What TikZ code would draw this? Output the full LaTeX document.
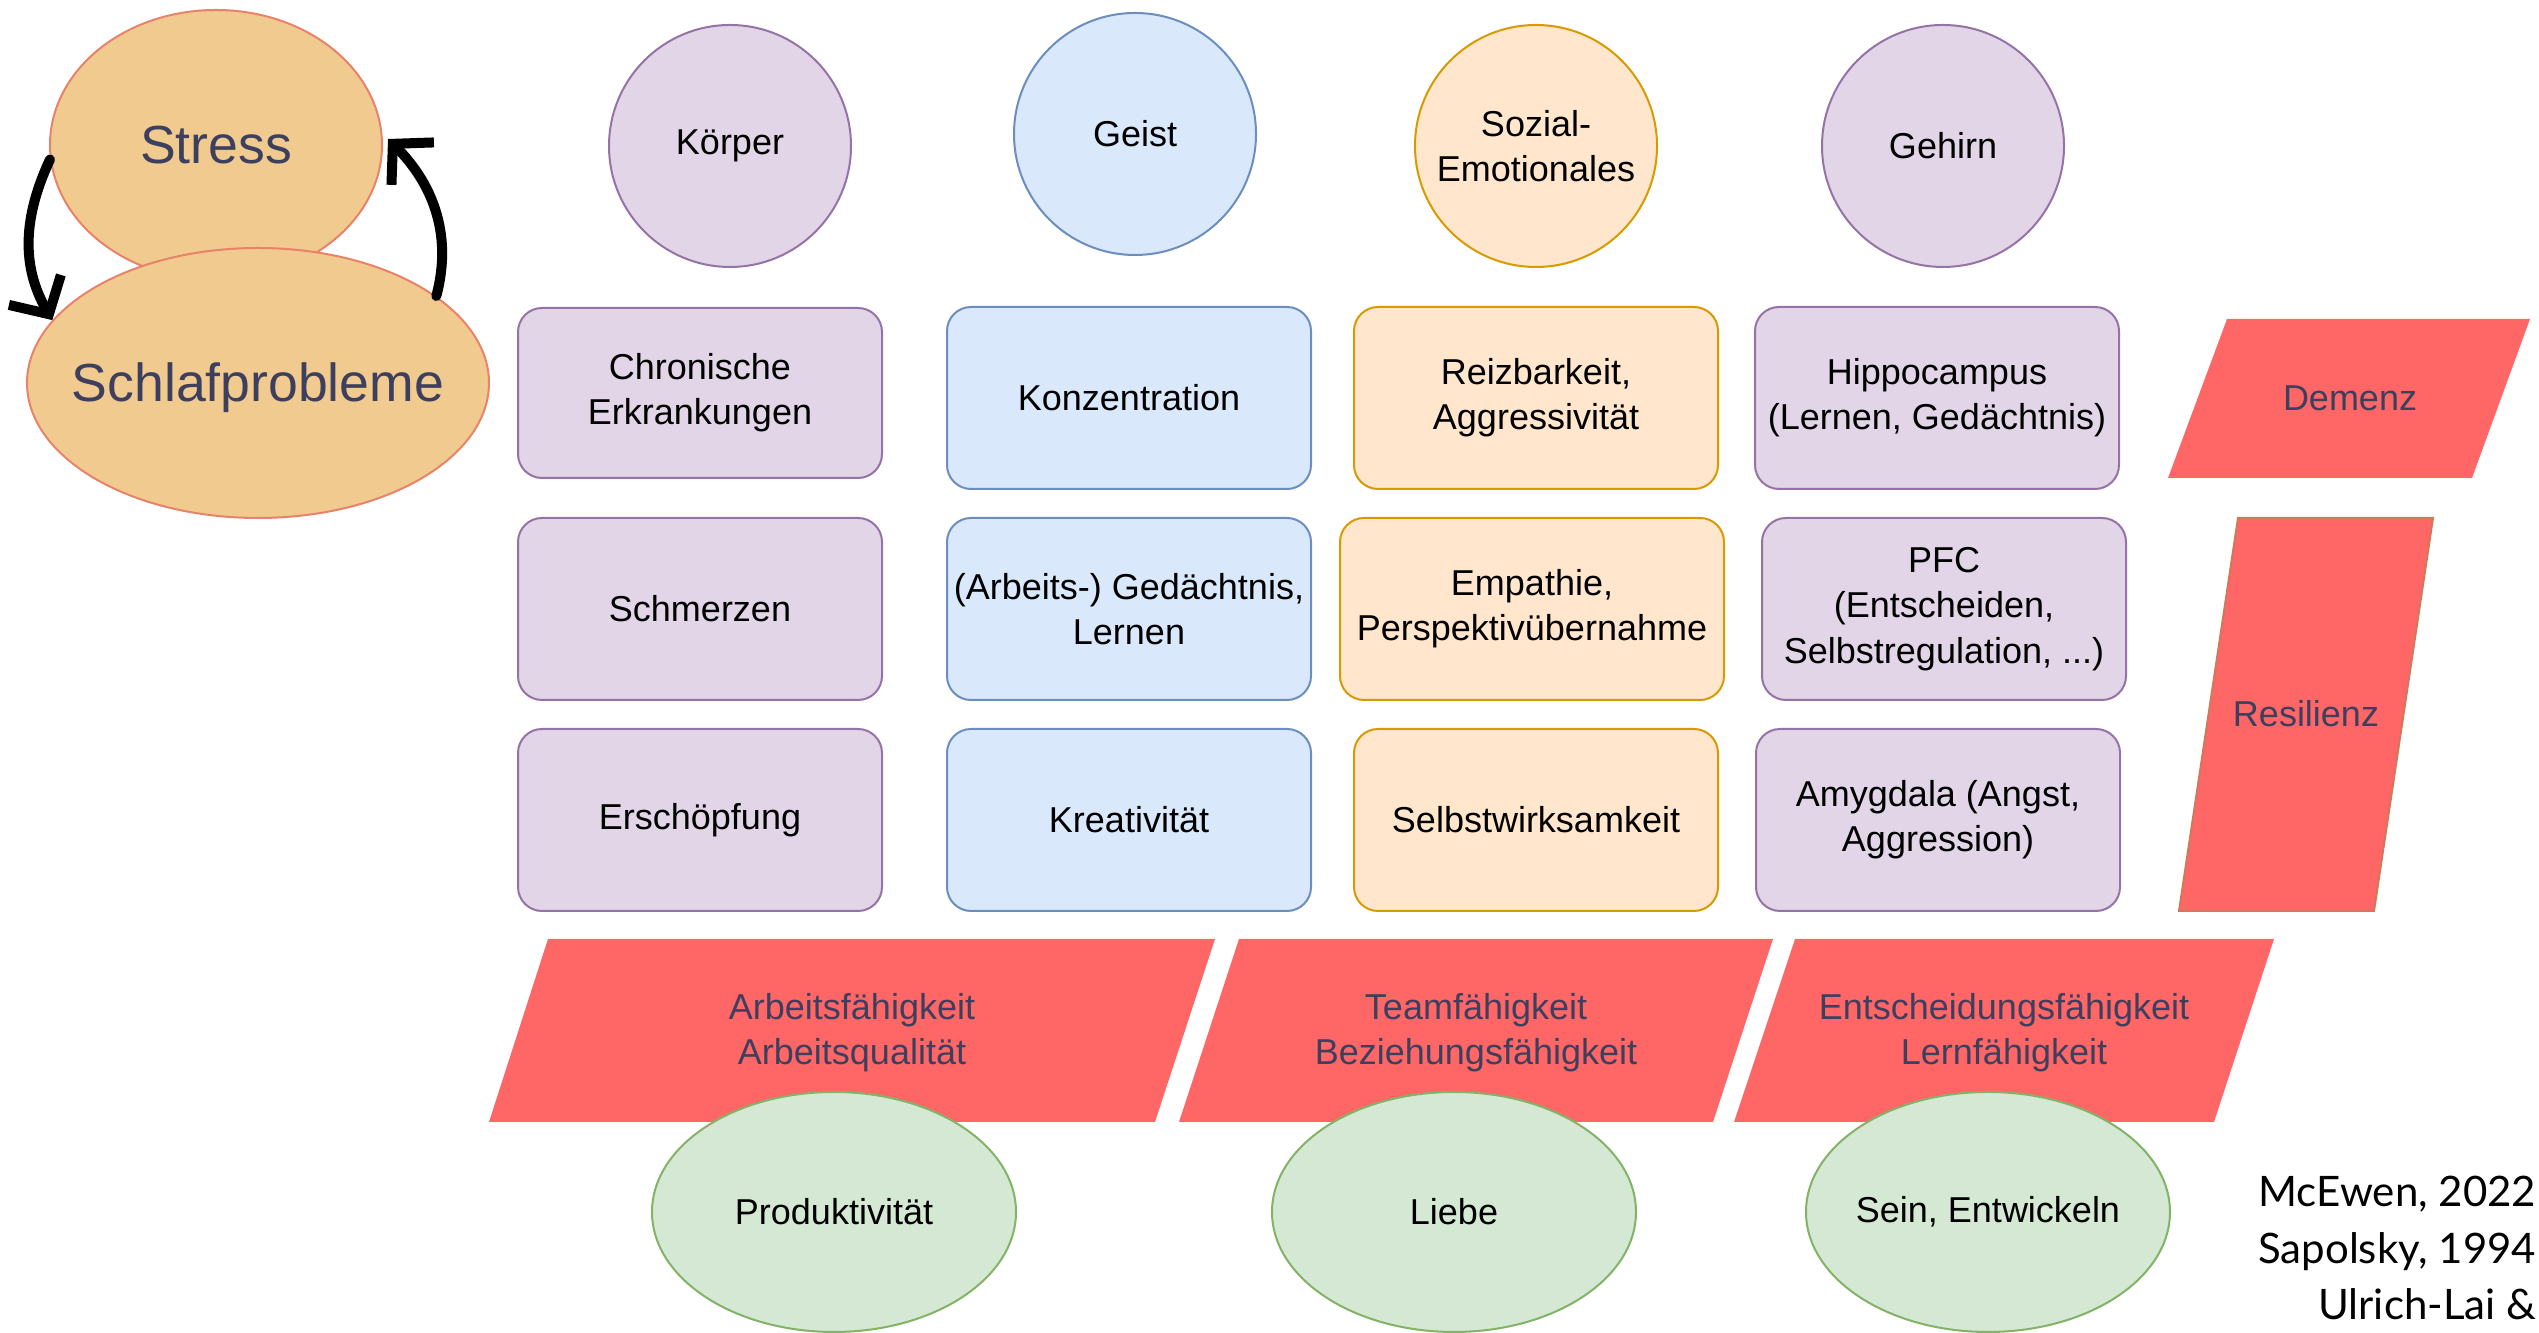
\documentclass[tikz,border=0pt]{standalone}
\usepackage{fontspec}
\setmainfont{Liberation Sans}
\newfontfamily\quellenfont{Lato}
\usepackage{tikz}
\usetikzlibrary{arrows.meta, positioning, shapes.geometric}

\definecolor{lilaFill}{HTML}{E1D5E7}
\definecolor{lilaLine}{HTML}{9673A6}
\definecolor{blauFill}{HTML}{DAE8FC}
\definecolor{blauLine}{HTML}{6C8EBF}
\definecolor{orangeFill}{HTML}{FFE6CC}
\definecolor{orangeLine}{HTML}{D79B00}
\definecolor{gruenFill}{HTML}{D5E8D4}
\definecolor{gruenLine}{HTML}{82B366}
\definecolor{stressFill}{HTML}{F0CA8E}
\definecolor{stressLine}{HTML}{E8836A}
\definecolor{rot}{HTML}{FF6666}
\definecolor{rotLine}{HTML}{D2785A}
\definecolor{slate}{HTML}{3D3F5E}

\begin{document}
\begin{tikzpicture}[
		x=0.25pt, y=-0.25pt,
		font=\fontsize{9}{11.3}\selectfont,
		box/.style={
			draw,
			line width=0.5pt,
			rounded corners=6pt,
			align=center,
			minimum width=91pt,
			minimum height=45.5pt,
			inner sep=1pt
		},
		lilabox/.style={box,fill=lilaFill,draw=lilaLine},
		blaubox/.style={box,fill=blauFill,draw=blauLine},
		orangebox/.style={box,fill=orangeFill,draw=orangeLine},
		topic/.style={circle,draw,line width=0.5pt,minimum size=60.5pt,inner sep=0pt,align=center},
		cause/.style={ellipse,draw=stressLine,fill=stressFill,line width=0.5pt,inner sep=0pt},
		causetext/.style={text=slate,font=\fontsize{13.4}{16}\selectfont},
		goal/.style={ellipse,draw=gruenLine,fill=gruenFill,line width=0.5pt,inner sep=0pt,
			minimum width=91pt,minimum height=60pt},
		band/.style={fill=rot},
		bandtext/.style={align=center,text=slate,inner sep=0pt},
		quelle/.style={anchor=base east,inner sep=0pt,font=\quellenfont\fontsize{10.5}{13}\selectfont},
		cyclearrow/.style={-{Straight Barb[length=7pt,width=15pt]},line width=2.5pt,line cap=round}
	]

	\useasboundingbox (0,0) rectangle (2539,1333);

	% Teufelskreis
	\node[cause,minimum width=83pt,minimum height=67.5pt,label={[causetext]center:Stress}] (stress) at (216,145) {};
	\node[cause,minimum width=115.5pt,minimum height=67.5pt,label={[causetext,yshift=-1.2pt]center:Schlafprobleme}] (schlaf) at (258,383) {};
	\draw[cyclearrow] (stress.185) to[out=245,in=120] (schlaf.163);
	\draw[cyclearrow,shorten >=2pt] (schlaf.26) to[out=75,in=-45] (stress.4);

	% Bereiche
	\node[topic,fill=lilaFill,draw=lilaLine] (koerper) at (730,146) {Körper};
	\node[topic,fill=blauFill,draw=blauLine] (geist) at (1135,134) {Geist};
	\node[topic,fill=orangeFill,draw=orangeLine] (sozial) at (1536,146) {Sozial-\\Emotionales};
	\node[topic,fill=lilaFill,draw=lilaLine] (gehirn) at (1943,146) {Gehirn};

	\node[lilabox,minimum height=42.5pt] (chronisch) at (700,393) {Chronische\\Erkrankungen};
	\node[lilabox] (schmerz) at (700,609) {Schmerzen};
	\node[lilabox] (erschoepf) at (700,820) {Erschöpfung};

	\node[blaubox] (konzentration) at (1129,398) {Konzentration};
	\node[blaubox] (gedaechtnis) at (1129,609) {(Arbeits-) Gedächtnis,\\Lernen};
	\node[blaubox] (kreativ) at (1129,820) {Kreativität};

	\node[orangebox] (reizbar) at (1536,398) {Reizbarkeit,\\Aggressivität};
	\node[orangebox,minimum width=96pt] (empathie) at (1532,609) {Empathie,\\Perspektivübernahme};
	\node[orangebox] (selbstwirk) at (1536,820) {Selbstwirksamkeit};

	\node[lilabox] (hippo) at (1937,398) {Hippocampus\\(Lernen, Gedächtnis)};
	\node[lilabox] (pfc) at (1944,609) {PFC\\(Entscheiden,\\Selbstregulation, ...)};
	\node[lilabox] (amygdala) at (1938,820) {Amygdala (Angst,\\Aggression)};

	% Folgen
	\fill[band] (2168,478) -- (2227,319) -- (2530,319) -- (2472,478) -- cycle;
	\node[bandtext] (demenz) at (2350,398) {Demenz};
	\filldraw[band,draw=rotLine,line width=0.5pt] (2179,911) -- (2238,518) -- (2433,518) -- (2374,911) -- cycle;
	\node[bandtext] (resilienz) at (2306,714) {Resilienz};

	\fill[band] (489,1122) -- (548,939) -- (1215,939) -- (1155,1122) -- cycle;
	\node[bandtext] (arbeit) at (852,1033) {Arbeitsfähigkeit\\Arbeitsqualität};
	\fill[band] (1179,1122) -- (1239,939) -- (1773,939) -- (1713,1122) -- cycle;
	\node[bandtext] (team) at (1476,1033) {Teamfähigkeit\\Beziehungsfähigkeit};
	\fill[band] (1734,1122) -- (1795,939) -- (2274,939) -- (2214,1122) -- cycle;
	\node[bandtext] (entscheid) at (2004,1033) {Entscheidungsfähigkeit\\Lernfähigkeit};

	\node[goal,label=center:Produktivität] (produktiv) at (834,1212) {};
	\node[goal,label=center:Liebe] (liebe) at (1454,1212) {};
	\node[goal,label=center:{Sein, Entwickeln}] (sein) at (1988,1212) {};

	% Quellen
	\node[quelle] (mcewen) at (2537,1207) {McEwen, 2022};
	\node[quelle] (sapolsky) at (2537,1264) {Sapolsky, 1994};
	\node[quelle] (ulrich) at (2537,1320) {Ulrich-Lai \&};

\end{tikzpicture}
\end{document}
